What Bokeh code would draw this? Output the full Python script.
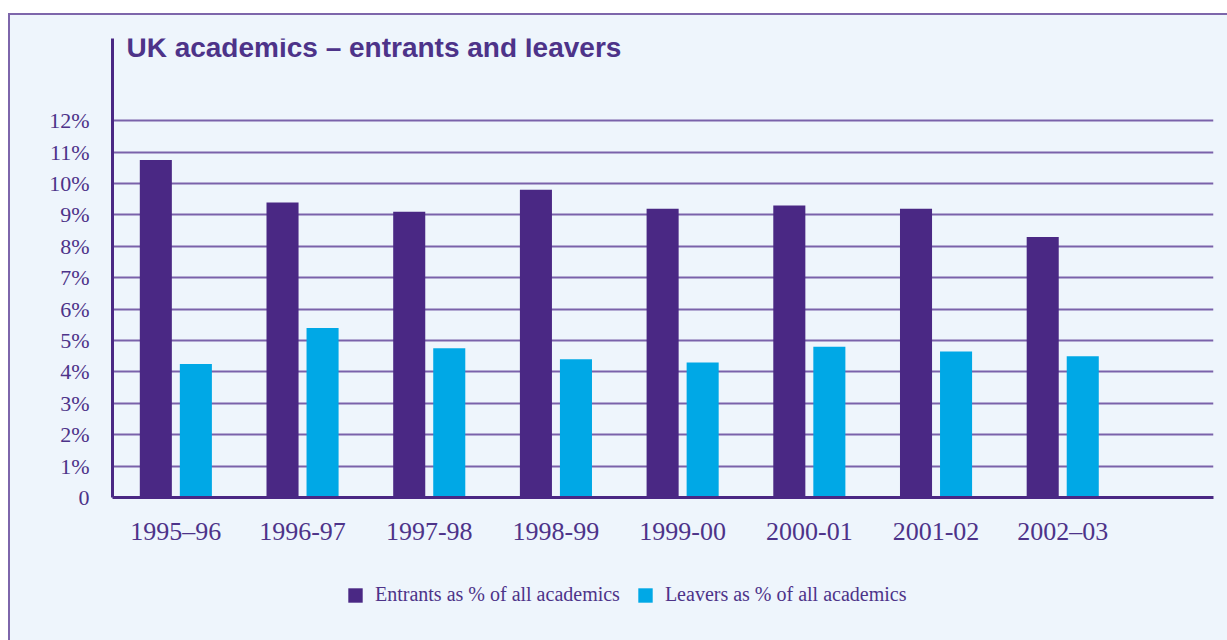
from bokeh.plotting import figure
from bokeh.layouts import column
from bokeh.models import ColumnDataSource, Label, Legend, LegendItem, FixedTicker, Range1d
from bokeh.embed import file_html
from bokeh.resources import INLINE

years = ["1995–96", "1996-97", "1997-98", "1998-99", "1999-00", "2000-01", "2001-02", "2002–03"]
entrants = [10.75, 9.4, 9.1, 9.8, 9.2, 9.3, 9.2, 8.3]
leavers = [4.25, 5.4, 4.75, 4.4, 4.3, 4.8, 4.65, 4.5]
y_ticks = list(range(0, 13))
y_tick_labels = ["0"] + [f"{t}%" for t in range(1, 13)]
series_names = ["Entrants as % of all academics", "Leavers as % of all academics"]

PURPLE = "#4a2884"
CYAN = "#00a8e6"
TEXT = "#4d3389"
GRID = "#7a62aa"
BG = "#eef5fc"

idx = list(range(len(years)))
off = 0.158
w = 0.253
src = ColumnDataSource(dict(
    xe=[i - off for i in idx], xl=[i + off for i in idx],
    ent=entrants, lea=leavers))

p = figure(width=1219, height=560, output_backend="svg", toolbar_location=None,
           x_range=Range1d(-0.5, 8.19), y_range=Range1d(0, 14.62),
           min_border_left=102, min_border_right=16, min_border_top=23, min_border_bottom=78,
           background_fill_color=BG, border_fill_color=BG, outline_line_color=None)

r1 = p.vbar(x="xe", top="ent", width=w, source=src, fill_color=PURPLE, line_color=None)
r2 = p.vbar(x="xl", top="lea", width=w, source=src, fill_color=CYAN, line_color=None)

p.yaxis.ticker = FixedTicker(ticks=y_ticks)
p.yaxis.major_label_overrides = {t: l for t, l in zip(y_ticks, y_tick_labels)}
p.xaxis.ticker = FixedTicker(ticks=idx)
p.xaxis.major_label_overrides = {i: y for i, y in zip(idx, years)}
for ax in (p.xaxis, p.yaxis):
    ax.major_tick_line_color = None
    ax.minor_tick_line_color = None
    ax.major_tick_out = 0
    ax.major_tick_in = 0
    ax.minor_tick_out = 0
    ax.axis_line_color = PURPLE
    ax.axis_line_width = 3
    ax.major_label_text_font = "Liberation Serif"
    ax.major_label_text_color = TEXT
p.yaxis.major_label_text_font_size = "22px"
p.yaxis.major_label_standoff = 23
p.xaxis.major_label_text_font_size = "26px"
p.xaxis.major_label_standoff = 19

p.xgrid.grid_line_color = None
p.ygrid.grid_line_color = GRID
p.ygrid.grid_line_width = 2
p.ygrid.ticker = FixedTicker(ticks=y_ticks[1:])

title = Label(x=-0.39, y=14.32, text="UK academics – entrants and leavers",
              text_font="Liberation Sans", text_font_style="bold", text_font_size="28px",
              text_color=TEXT, text_baseline="alphabetic")
p.add_layout(title)

# legend panel (its frame is aligned with the main plot's frame)
lp = figure(width=1219, height=67, output_backend="svg", toolbar_location=None,
            x_range=Range1d(0, 1), y_range=Range1d(0, 1),
            x_axis_location=None, y_axis_location=None,
            min_border_left=0, min_border_right=0, min_border_top=0, min_border_bottom=0,
            background_fill_color=None, border_fill_color=None, outline_line_color=None)
lp.grid.visible = False
# legend keys only: a zero-height sample that draws nothing
key_src = ColumnDataSource(dict(x=[0.5], top=[0]))
l1 = lp.vbar(x="x", top="top", width=0.0, source=key_src, fill_color=PURPLE, line_color=None)
l2 = lp.vbar(x="x", top="top", width=0.0, source=key_src, fill_color=CYAN, line_color=None)
legend = Legend(items=[LegendItem(label=series_names[0], renderers=[l1]),
                       LegendItem(label=series_names[1], renderers=[l2])],
                orientation="horizontal", location=(234, 36),
                background_fill_alpha=0, border_line_color=None,
                glyph_width=18, glyph_height=18, label_standoff=11, spacing=16,
                padding=0, margin=0,
                label_text_font="Liberation Serif", label_text_font_size="20px",
                label_text_color=TEXT)
lp.add_layout(legend)

layout = column(p, lp, spacing=0)
layout.margin = (13, 0, 0, 8)
layout.styles = {"border-top": "2px solid #7d66ab", "border-left": "2px solid #7d66ab",
                 "background-color": BG}

open("out.html", "w").write(file_html(layout, INLINE))
